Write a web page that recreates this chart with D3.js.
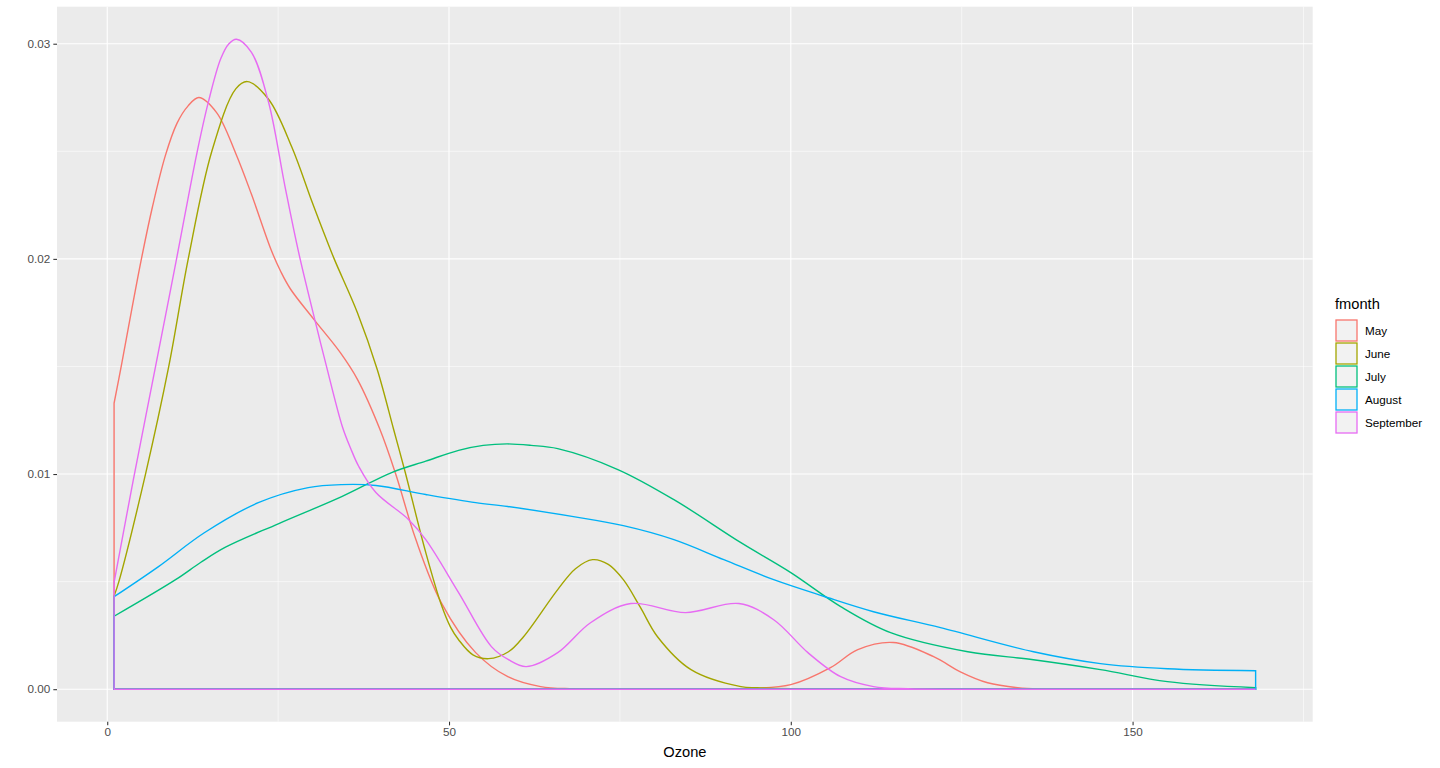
<!DOCTYPE html>
<html lang="en">
<head>
  <meta charset="UTF-8">
  <title>Ozone density by month</title>
  <script src="https://d3js.org/d3.v7.min.js"></script>
  <style>
    body { margin: 0; background: #fff; }
    svg { font-family: "Liberation Sans", Arial, sans-serif; display: block; }
    .tick text { fill: #4D4D4D; font-size: 11.7px; }
    .tick line { stroke: #333; stroke-width: 1.07; }
    .curve { fill: none; stroke-width: 1.4; }
  </style>
</head>
<body>
<svg id="chart"></svg>
<script>
// months (legend order) and their hue colours
const months = ["May", "June", "July", "August", "September"];
const monthColors = ["#F8766D", "#A3A500", "#00BF7D", "#00B0F6", "#E76BF3"];

// density curves: [ozone, density]
const mayDensity = [[1,0.01329],[2.1,0.0151],[3.5,0.0175],[5.0,0.02],[6.6,0.0224],[8.5,0.0248],[10.2,0.0263],[11.8,0.0271],[13.4,0.0275],[16.0,0.0268],[18.8,0.0249],[21.1,0.023],[24.0,0.0204],[25.4,0.0194],[26.8,0.0186],[30.2,0.0172],[34.1,0.01564],[36.6,0.0144],[39.9,0.01207],[42.2,0.01],[45.1,0.007],[48.9,0.004],[53.9,0.0017],[58.6,0.00058],[63.4,0.00012],[68.2,0.00002],[80,0],[92.7,0.00002],[100,0.00021],[105.8,0.001],[109.8,0.00184],[115,0.00217],[120.9,0.00151],[124.8,0.00081],[128.8,0.0003],[133.2,0.00007],[136.5,0.00001],[150,0],[168,0]];
const juneDensity = [[1,0.00433],[1.7,0.005],[5.6,0.01],[9.0,0.015],[11.85,0.02],[15.3,0.025],[18.8,0.0279],[20.5,0.02824],[23.6,0.02742],[27.0,0.0252],[29.9,0.0227],[31.5,0.02137],[33.2,0.02],[36.6,0.0175],[39.5,0.01486],[41.9,0.01207],[43.6,0.01007],[46.6,0.00635],[48.9,0.0039],[50.2,0.0029],[51.4,0.0023],[53.5,0.0016],[55.8,0.00142],[58.7,0.00174],[60.9,0.00244],[65.9,0.00463],[68.5,0.0056],[71.0,0.00602],[73.3,0.0058],[75.5,0.00509],[78.0,0.0038],[80.5,0.00244],[85.4,0.00091],[92.7,0.00012],[95.1,0.00007],[100,0.00002],[110,0],[168,0]];
const julyDensity = [[1,0.00339],[10.0,0.00509],[13.7,0.0059],[17.3,0.0066],[25.1,0.0077],[34.3,0.00895],[41.6,0.01007],[46.6,0.0106],[51.4,0.0111],[55.0,0.01133],[58.5,0.0114],[62.0,0.01133],[65.9,0.01118],[74.7,0.01021],[82.9,0.00881],[92.7,0.00681],[100,0.00542],[107.3,0.00384],[114.6,0.00263],[125.9,0.00174],[135.5,0.00137],[145.3,0.00091],[155.1,0.00035],[168,0.00007]];
const augustDensity = [[1,0.0043],[7.5,0.0057],[14.2,0.00727],[22.1,0.00867],[29.4,0.00937],[34.3,0.00951],[39.3,0.00947],[46.6,0.00905],[53.9,0.00867],[58.6,0.00849],[68.2,0.00802],[75.5,0.0076],[82.9,0.00695],[90.2,0.00602],[97.5,0.00509],[104.8,0.00432],[112.1,0.0036],[121.9,0.00286],[135.5,0.00174],[145.3,0.00119],[155.1,0.00095],[168,0.00086]];
const septemberDensity = [[1,0.00497],[3.8,0.0097],[7.07,0.015],[10.14,0.02],[13.17,0.025],[14.8,0.0273],[16.6,0.0293],[17.8,0.03],[18.9,0.03021],[21.1,0.0296],[23.6,0.02728],[26.0,0.02337],[28.0,0.0203],[30.5,0.017],[32.0,0.0151],[34.4,0.0122],[35.6,0.0112],[36.8,0.01035],[39.3,0.00914],[44.1,0.00788],[46.6,0.00695],[51.4,0.00449],[56.2,0.00198],[58.7,0.00137],[61.3,0.00105],[65.9,0.0017],[70.7,0.00309],[76.6,0.00398],[84.6,0.00356],[92.4,0.00398],[97.5,0.00323],[102.5,0.0017],[107.3,0.00058],[112.1,0.00012],[117.1,0.00002],[125,0],[168,0]];

const xTicks = [0, 50, 100, 150];
const xMinor = [25, 75, 125, 175];
const yTicks = [0, 0.01, 0.02, 0.03];
const yMinor = [0.005, 0.015, 0.025];

const series = [mayDensity, juneDensity, julyDensity, augustDensity, septemberDensity];

const W = 1440, H = 768;
const panel = { left: 57, right: 1312.7, top: 6.7, bottom: 721.7 };

const svg = d3.select("#chart").attr("width", W).attr("height", H);

// ggplot style 5% expansion
const allPts = series.flat();
const xExt = d3.extent(allPts, d => d[0]);
const yMax = d3.max(allPts, d => d[1]);
const xPad = (xExt[1] - xExt[0]) * 0.05, yPad = yMax * 0.05;

const x = d3.scaleLinear().domain([xExt[0] - xPad, xExt[1] + xPad]).range([panel.left, panel.right]);
const y = d3.scaleLinear().domain([-yPad, yMax + yPad]).range([panel.bottom, panel.top]);

svg.append("rect")
  .attr("x", panel.left).attr("y", panel.top)
  .attr("width", panel.right - panel.left).attr("height", panel.bottom - panel.top)
  .attr("fill", "#EBEBEB");

const grid = svg.append("g");
grid.selectAll(".xminor").data(xMinor.filter(v => x(v) < panel.right)).join("line")
  .attr("x1", d => x(d)).attr("x2", d => x(d)).attr("y1", panel.top).attr("y2", panel.bottom)
  .attr("stroke", "#fff").attr("stroke-width", 0.55);
grid.selectAll(".yminor").data(yMinor).join("line")
  .attr("y1", d => y(d)).attr("y2", d => y(d)).attr("x1", panel.left).attr("x2", panel.right)
  .attr("stroke", "#fff").attr("stroke-width", 0.55);
grid.selectAll(".xmajor").data(xTicks).join("line")
  .attr("x1", d => x(d)).attr("x2", d => x(d)).attr("y1", panel.top).attr("y2", panel.bottom)
  .attr("stroke", "#fff").attr("stroke-width", 1.1);
grid.selectAll(".ymajor").data(yTicks).join("line")
  .attr("y1", d => y(d)).attr("y2", d => y(d)).attr("x1", panel.left).attr("x2", panel.right)
  .attr("stroke", "#fff").attr("stroke-width", 1.1);

// each density drawn as a closed outline, like geom_density with no fill
const area = d3.area()
  .x(d => x(d[0]))
  .y0(y(0))
  .y1(d => y(d[1]))
  .curve(d3.curveCatmullRom.alpha(0.5));

svg.append("g").selectAll("path").data(series).join("path")
  .attr("class", "curve")
  .attr("d", d => area(d) + "Z")
  .attr("stroke", (d, i) => monthColors[i]);

const xAxis = svg.append("g")
  .attr("transform", `translate(0,${panel.bottom})`)
  .call(d3.axisBottom(x).tickValues(xTicks).tickSize(3.67).tickPadding(2.5).tickFormat(d3.format("d")));
xAxis.select(".domain").remove();

const yAxis = svg.append("g")
  .attr("transform", `translate(${panel.left},0)`)
  .call(d3.axisLeft(y).tickValues(yTicks).tickSize(3.67).tickPadding(3).tickFormat(d3.format(".2f")));
yAxis.select(".domain").remove();

svg.append("text")
  .attr("x", (panel.left + panel.right) / 2).attr("y", 757)
  .attr("text-anchor", "middle").attr("font-size", "14.67px").attr("fill", "#000")
  .text("Ozone");

// legend
const legend = svg.append("g").attr("transform", "translate(1335,0)");
legend.append("text").attr("x", 0).attr("y", 309)
  .attr("font-size", "14.67px").attr("fill", "#000").text("fmonth");
const keys = legend.selectAll(".key").data(months).join("g")
  .attr("transform", (d, i) => `translate(0,${319 + i * 23})`);
keys.append("rect")
  .attr("x", 1).attr("y", 1).attr("width", 21).attr("height", 21)
  .attr("fill", "#F2F2F2").attr("stroke", (d, i) => monthColors[i]).attr("stroke-width", 1.3);
keys.append("text")
  .attr("x", 30).attr("y", 11.5).attr("dy", "0.35em")
  .attr("font-size", "11.7px").attr("fill", "#000")
  .text(d => d);
</script>
</body>
</html>
